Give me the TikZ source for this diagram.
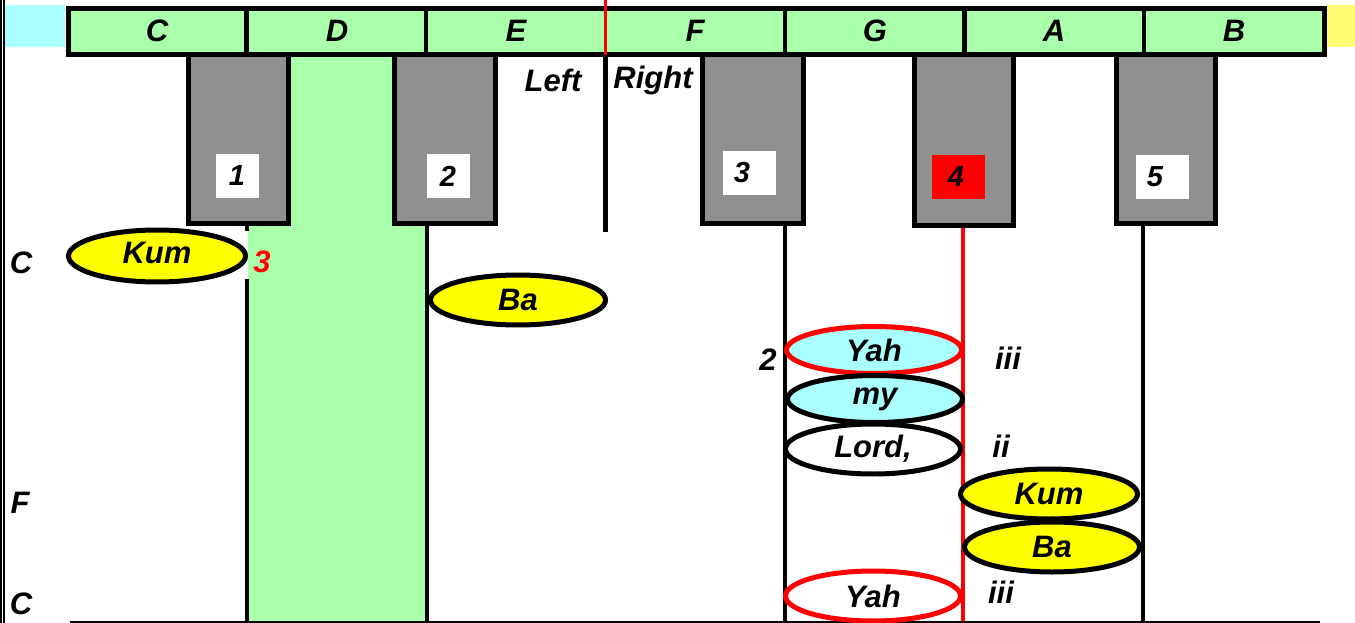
\documentclass[tikz,border=0pt]{standalone}
\usepackage{fontspec}
\setmainfont{Liberation Sans}
\usetikzlibrary{shapes.geometric}
\definecolor{keygreen}{HTML}{AAFFAA}
\definecolor{lcyan}{HTML}{AAFFFF}
\definecolor{lyellow}{HTML}{FFFF77}
\definecolor{keygrey}{HTML}{909090}
\definecolor{myred}{HTML}{FF0000}
\definecolor{myyellow}{HTML}{FFFF00}
\tikzset{
  lbl/.style={font=\fontsize{31}{33}\selectfont\bfseries\itshape, inner sep=0pt},
  blackkey/.style={draw=black, line width=5pt, fill=keygrey},
  numbox/.style={fill=white, minimum width=43pt, minimum height=44pt, inner sep=0pt, font=\fontsize{29}{31}\selectfont\bfseries\itshape},
  ell/.style={ellipse, draw=black, line width=5pt, inner sep=0pt, font=\fontsize{31}{33}\selectfont\bfseries\itshape},
  vline/.style={line width=4.5pt},
}
\begin{document}
\begin{tikzpicture}[x=1pt,y=-1pt]
\useasboundingbox (0,0) rectangle (1355,623);
% left double line
\draw[line width=1.4pt] (0.8,0) -- (0.8,623);
\draw[line width=1.4pt] (4.0,0) -- (4.0,623);
% side colour blocks
\fill[lcyan] (5,5) rectangle (65,47);
\fill[lyellow] (1327,5) rectangle (1355,47);
% green D column
\fill[keygreen] (248,55) rectangle (426,623);
% header
\draw[fill=keygreen, line width=5pt] (68,9) rectangle (1324,55);
\foreach \x in {246.5,426,785,964.5,1144} \draw[line width=4.5pt] (\x,9) -- (\x,55);
\draw[myred, line width=3.5pt] (605.5,0) -- (605.5,55);
\node[lbl] (hC) at (157,31) {C};
\node[lbl] (hD) at (337,31) {D};
\node[lbl] (hE) at (516,31) {E};
\node[lbl] (hF) at (695,31) {F};
\node[lbl] (hG) at (875,31) {G};
\node[lbl] (hA) at (1054,31) {A};
\node[lbl] (hB) at (1234,31) {B};
% black keys
\draw[blackkey] (188,55) rectangle (288,223);
\draw[blackkey] (394,55) rectangle (495,223);
\draw[blackkey] (702,55) rectangle (803,223);
\draw[blackkey] (914,55) rectangle (1013,225);
\draw[blackkey] (1116,55) rectangle (1215,223);
\node[numbox] (n1) at (237,176) {1};
\node[numbox] (n2) at (448,176) {2};
\node[numbox, minimum width=53pt] (n3) at (749,173) {\hspace*{-14pt}3};
\node[numbox, fill=myred, minimum width=53pt] (n4) at (958,177) {\hspace*{-4pt}4};
\node[numbox, minimum width=53pt] (n5) at (1162,177) {\hspace*{-14pt}5};
% vertical lines
\draw[vline] (247,225) -- (247,231);
\draw[vline] (247,279) -- (247,623);
\draw[vline] (427,225) -- (427,623);
\draw[vline] (605.5,57) -- (605.5,232);
\draw[vline] (785,225) -- (785,623);
\draw[vline, myred, line width=3.8pt] (963,228) -- (963,623);
\draw[vline] (1143,225) -- (1143,623);
\draw[line width=1.6pt] (70,622) -- (1320,622);
% side labels
\node[lbl] (lC1) at (21,263) {C};
\node[lbl] (lF) at (20,503) {F};
\node[lbl] (lC2) at (21,604) {C};
\node[lbl] (left) at (553,80) {Left};
\node[lbl] (right) at (653,80) {Right};
% ellipses
\node[ell, fill=myyellow, minimum width=177pt, minimum height=52pt] (kum1) at (157,256) {Kum\vphantom{y}};
\node[lbl, text=myred] (three) at (262,262) {3};
\node[ell, fill=myyellow, minimum width=175pt, minimum height=50pt] (ba1) at (518,300) {Ba};
\node[ell, fill=lcyan, draw=myred, minimum width=175pt, minimum height=47pt] (yah1) at (874,350) {Yah};
\node[ell, fill=lcyan, minimum width=175pt, minimum height=47pt] (my) at (875,399) {my};
\node[ell, fill=white, minimum width=175pt, minimum height=50pt] (lord) at (873,449) {Lord,};
\node[ell, fill=myyellow, minimum width=177pt, minimum height=50pt] (kum2) at (1049,494) {Kum};
\node[ell, fill=myyellow, minimum width=175pt, minimum height=50pt] (ba2) at (1052,547) {Ba};
\node[ell, fill=white, draw=myred, minimum width=175pt, minimum height=50pt] (yah2) at (873,596) {Yah};
\node[lbl] (two) at (768,360) {2};
\node[lbl] (r1) at (1008,358) {iii};
\node[lbl] (r2) at (1001,446) {ii};
\node[lbl] (r3) at (1001,592) {iii};
\end{tikzpicture}
\end{document}
